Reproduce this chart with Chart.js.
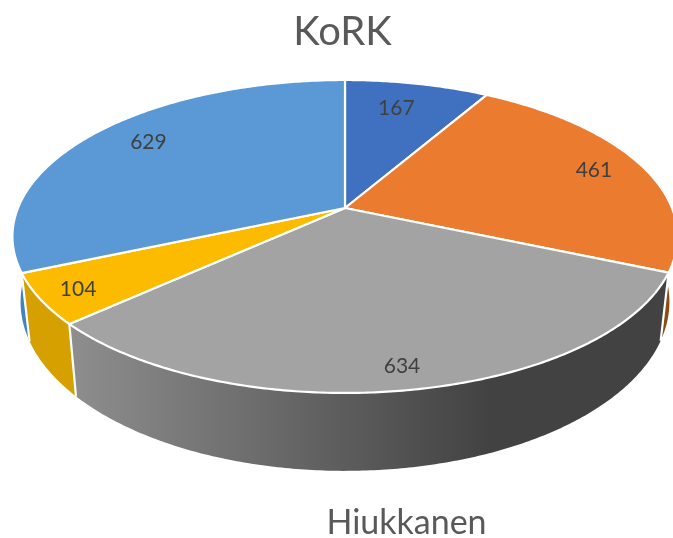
<!DOCTYPE html>
<html>
<head>
<meta charset="utf-8">
<style>
  html, body { margin: 0; padding: 0; background: #fff; overflow: hidden; }
  canvas { display: block; }
</style>
<script src="https://cdn.jsdelivr.net/npm/chart.js@4"></script>
</head>
<body>
<canvas id="chart" width="673" height="538"></canvas>
<script>
const categories = ['1', '2', '3', '4', '5'];
const values = [167, 461, 634, 104, 629];
const topColors = ['#4070C0', '#EA7B2F', '#A3A3A3', '#FDBB00', '#5A98D6'];
const wallColors = ['#2F5597', '#8A4B14', 'gray', '#D6A100', '#4183BF'];
const titleText = 'KoRK';
const axisText = 'Hiukkanen';

// tilted pie: Chart.js works out the slice angles, this only projects them
const apex = {x: 345, y: 208};
const tilt = 0.182;
const topFace = {a: 327, b: 151.3, dy: 0};
const bottomFace = {a: 319, b: 163.5, dy: 63};
const labelRadius = [0.75, 0.84, 0.89, 0.89, 0.8];
const labelShift = [[-5, -3], [0, 0], [0, 0], [1, 1], [6, -4]];

function project(face, angle, r) {
    const u = Math.cos(angle) * r;
    const v = Math.sin(angle) * r;
    const d = 1 - tilt * v;
    return {x: apex.x + face.a * u / d, y: apex.y + face.dy + face.b * v / d};
}

function rim(face, start, end) {
    const pts = [];
    const n = Math.max(2, Math.ceil((end - start) / 0.01));
    for (let i = 0; i <= n; i++) {
        pts.push(project(face, start + (end - start) * i / n, 1));
    }
    return pts;
}

const tiltedPie = {
    id: 'tiltedPie',
    beforeDatasetsDraw(chart) {
        const ctx = chart.ctx;
        const arcs = chart.getDatasetMeta(0).data;

        const sideGrad = ctx.createLinearGradient(70, 0, 490, 0);
        sideGrad.addColorStop(0, '#8E8E8E');
        sideGrad.addColorStop(1, '#424242');

        ctx.save();
        ctx.lineJoin = 'round';
        ctx.strokeStyle = '#fff';
        ctx.lineWidth = 2.2;

        // side walls first, the top face covers what is behind
        arcs.forEach((arc, i) => {
            const upper = rim(topFace, arc.startAngle, arc.endAngle);
            const lower = rim(bottomFace, arc.startAngle, arc.endAngle).reverse();
            ctx.beginPath();
            upper.concat(lower).forEach((p, k) => k ? ctx.lineTo(p.x, p.y) : ctx.moveTo(p.x, p.y));
            ctx.closePath();
            ctx.fillStyle = wallColors[i] === 'gray' ? sideGrad : wallColors[i];
            ctx.fill();
        });
        // white seams between the walls
        arcs.forEach(arc => {
            const a = project(topFace, arc.startAngle, 1);
            const b = project(bottomFace, arc.startAngle, 1);
            if (Math.sin(arc.startAngle) > 0) {
                ctx.beginPath();
                ctx.moveTo(a.x, a.y);
                ctx.lineTo(b.x, b.y);
                ctx.stroke();
            }
        });

        arcs.forEach((arc, i) => {
            ctx.beginPath();
            ctx.moveTo(apex.x, apex.y);
            rim(topFace, arc.startAngle, arc.endAngle).forEach(p => ctx.lineTo(p.x, p.y));
            ctx.closePath();
            ctx.fillStyle = topColors[i];
            ctx.fill();
            ctx.stroke();
        });

        ctx.fillStyle = '#404040';
        ctx.font = '21px Lato';
        ctx.textAlign = 'center';
        ctx.textBaseline = 'middle';
        arcs.forEach((arc, i) => {
            const p = project(topFace, (arc.startAngle + arc.endAngle) / 2, labelRadius[i]);
            ctx.fillText(String(values[i]), p.x + labelShift[i][0], p.y + labelShift[i][1]);
        });

        ctx.fillStyle = '#595959';
        ctx.font = '34px Lato';
        ctx.fillText(axisText, 406.5, 523);
        ctx.restore();
        return false;
    }
};

new Chart(document.getElementById('chart'), {
    type: 'pie',
    data: {
        labels: categories,
        datasets: [{data: values, backgroundColor: topColors, borderWidth: 0}]
    },
    options: {
        responsive: false,
        animation: false,
        layout: {padding: {left: 12}},
        plugins: {
            legend: {display: false},
            tooltip: {enabled: false},
            title: {
                display: true,
                text: titleText,
                color: '#595959',
                font: {family: 'Lato', size: 40, weight: 'normal'},
                padding: {top: 8, bottom: 10}
            }
        }
    },
    plugins: [tiltedPie]
});
</script>
</body>
</html>
